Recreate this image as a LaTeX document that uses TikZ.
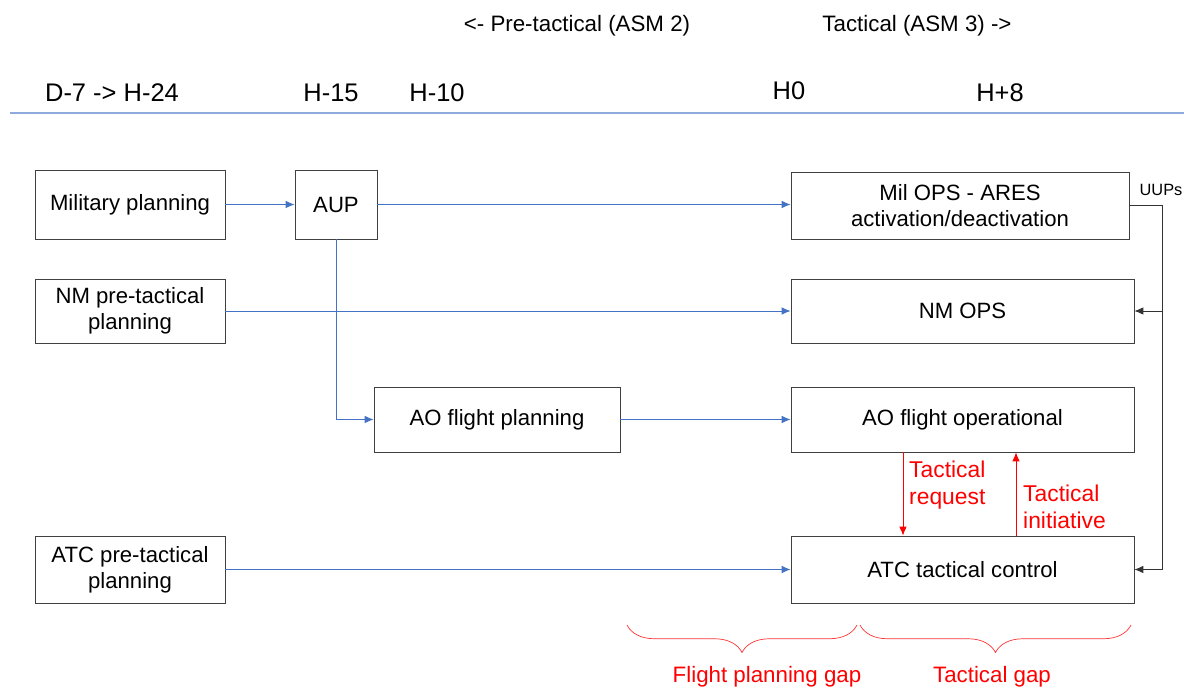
\documentclass[tikz,border=0pt]{standalone}
\usepackage{fontspec}
\setmainfont{Liberation Sans}
\usetikzlibrary{decorations.pathreplacing, arrows.meta}

\begin{document}
\begin{tikzpicture}[x=0.02cm, y=-0.02cm, >={Latex[length=1.8mm, width=1.5mm]},
    box/.style={draw=black!75, thin, align=center, inner sep=2pt,
      font=\fontsize{12.6}{15}\selectfont},
    flow/.style={->, draw=flowBlue, line width=0.5pt},
    uup/.style={->, draw=black!80, line width=0.5pt},
    tac/.style={->, draw=red, line width=0.5pt},
    redtxt/.style={text=red, align=left, font=\fontsize{13}{15}\selectfont},
    head/.style={font=\fontsize{14.5}{17}\selectfont},
    phase/.style={font=\fontsize{12.7}{15}\selectfont},
    gap/.style={draw=red!80, thin, decorate,
      decoration={brace, mirror, amplitude=0.55cm}}]

  \definecolor{flowBlue}{RGB}{68,114,196}
  \definecolor{lineBlue}{RGB}{143,170,220}

  \useasboundingbox (0,0) rectangle (1184,689);

  % phases and time marks
  \node[phase] (pretac) at (577,26) {<- Pre-tactical (ASM 2)};
  \node[phase] (tac) at (917,26) {Tactical (ASM 3) ->};
  \node[head] (d7) at (112,93) {D-7 -> H-24};
  \node[head] (h15) at (331,93) {H-15};
  \node[head] (h10) at (437,93) {H-10};
  \node[head] (h0) at (789,91) {H0};
  \node[head] (h8) at (1000,93) {H+8};
  \draw[lineBlue, thick] (10,113) -- (1184,113);

  % boxes
  \node[box, minimum width=3.8cm, minimum height=1.38cm] (mil) at (130,204.5) {Military planning};
  \node[box, minimum width=1.64cm, minimum height=1.38cm] (aup) at (336,204.5) {AUP};
  \node[box, minimum width=6.76cm, minimum height=1.34cm] (milops) at (960,205.5) {Mil OPS - ARES\\activation/deactivation};
  \node[box, minimum width=3.8cm, minimum height=1.28cm] (nmpre) at (130,311) {NM pre-tactical\\planning};
  \node[box, minimum width=6.86cm, minimum height=1.28cm] (nmops) at (962.5,311) {NM OPS};
  \node[box, minimum width=4.92cm, minimum height=1.3cm] (aopl) at (497,419.5) {AO flight planning};
  \node[box, minimum width=6.86cm, minimum height=1.3cm] (aoop) at (962.5,419.5) {AO flight operational};
  \node[box, minimum width=3.8cm, minimum height=1.34cm] (atcpre) at (130,569.5) {ATC pre-tactical\\planning};
  \node[box, minimum width=6.86cm, minimum height=1.34cm] (atc) at (962.5,569.5) {ATC tactical control};

  % planning flow
  \draw[flow] (mil) -- (aup);
  \draw[flow] (aup.east) -- (aup.east -| milops.west);
  \draw[flow] (nmpre) -- (nmops);
  \draw[flow] (aup.south) |- (aopl.west);
  \draw[flow] (aopl) -- (aoop);
  \draw[flow] (atcpre) -- (atc);

  % UUPs feedback
  \coordinate (uupTop) at (1162,205.5);
  \coordinate (uupBot) at (1162,569.5);
  \node[font=\fontsize{9.3}{11}\selectfont, anchor=south] (uuplbl) at (1161,202) {UUPs};
  \draw[black!80, line width=0.5pt] (milops.east) -- (uupTop) -- (uupBot);
  \draw[uup] (uupTop |- nmops.east) -- (nmops.east);
  \draw[uup] (uupBot) -- (atc.east);

  % tactical exchanges
  \coordinate (req) at (903,0);
  \coordinate (ini) at (1016,0);
  \draw[tac] (aoop.south -| req) -- (atc.north -| req);
  \draw[tac] (atc.north -| ini) -- (aoop.south -| ini);
  \node[redtxt, anchor=west] (reqlbl) at (903,485) {Tactical\\request};
  \node[redtxt, anchor=west] (inilbl) at (1017,507) {Tactical\\initiative};

  % gaps
  \draw[gap] (627,625) -- (857,625);
  \draw[gap] (860,625) -- (1131,625);
  \node[text=red, font=\fontsize{12.7}{15}\selectfont] (fpgap) at (767,677) {Flight planning gap};
  \node[text=red, font=\fontsize{12.7}{15}\selectfont] (tgap) at (992,677) {Tactical gap};

\end{tikzpicture}
\end{document}
